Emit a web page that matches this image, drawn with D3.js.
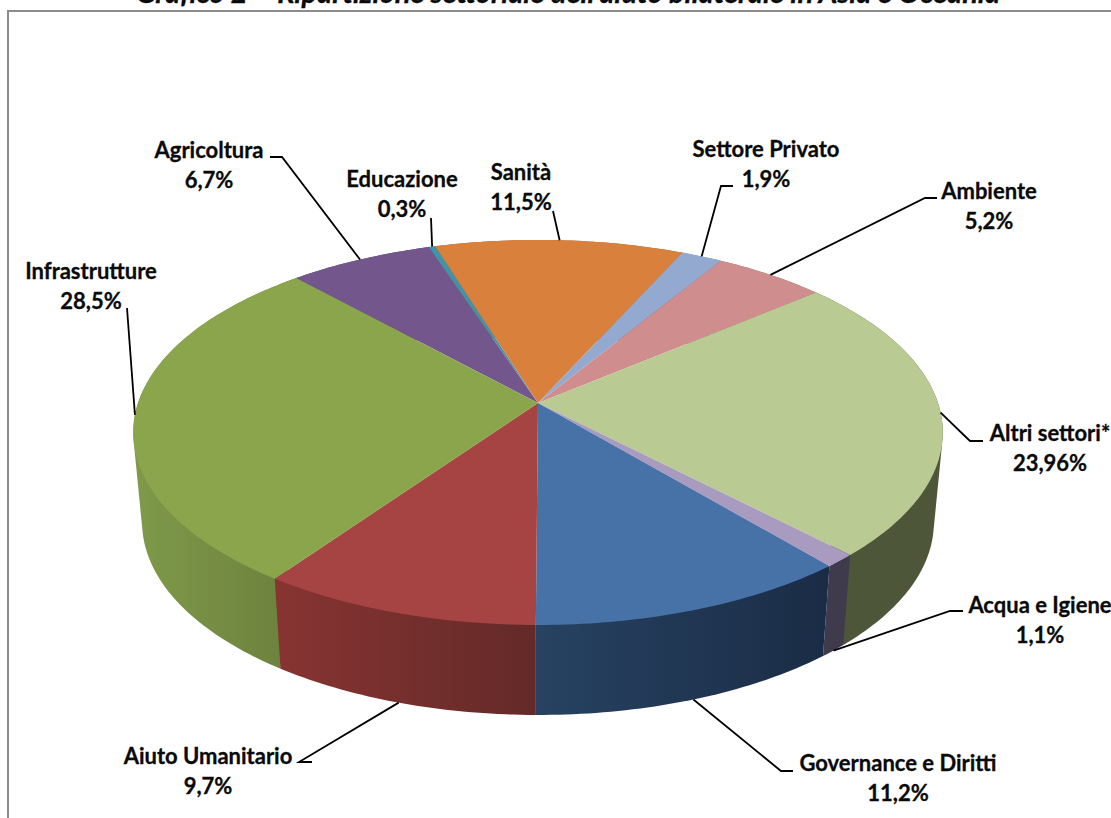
<!DOCTYPE html>
<html>
<head>
<meta charset="utf-8">
<script src="https://cdn.jsdelivr.net/npm/d3@7"></script>
<style>
  html, body { margin: 0; padding: 0; background: #fff; overflow: hidden; }
  text { font-family: Lato, "Open Sans", sans-serif; font-weight: 700; fill: #0a0a0a; stroke: #0a0a0a; stroke-width: 0.3px; }
  .chartTitle { font-style: italic; }
</style>
</head>
<body>
<div id="chart"></div>
<script>
const chartTitle = "Grafico 2 – Ripartizione settoriale dell'aiuto bilaterale in Asia e Oceania";
// clockwise, starting from the Infrastrutture/Agricoltura edge
const sectors = ["Agricoltura", "Educazione", "Sanità", "Settore Privato", "Ambiente",
  "Altri settori*", "Acqua e Igiene", "Governance e Diritti", "Aiuto Umanitario", "Infrastrutture"];
const shares = [6.7, 0.3, 11.5, 1.9, 5.2, 23.96, 1.1, 11.2, 9.7, 28.5];
const shareLabels = ["6,7%", "0,3%", "11,5%", "1,9%", "5,2%", "23,96%", "1,1%", "11,2%", "9,7%", "28,5%"];

const topColors = ["#73578c", "#3f94aa", "#d9803c", "#94a9d0", "#cf8d8d",
  "#b9cb92", "#a99bbf", "#4672a8", "#a54442", "#8aa54c"];
const wallColors = [["#5a4470", "#5a4470"], ["#2f6f80", "#2f6f80"], ["#a5612e", "#a5612e"], ["#6f7f9c", "#6f7f9c"], ["#9c6b6b", "#9c6b6b"],
  ["#4d5639", "#4d5639"], ["#403b4c", "#403b4c"], ["#274262", "#1a2c45"], ["#873432", "#632a28"], ["#7f9a4a", "#6c803c"]];

// label centre x, first line centre y, then the leader elbow points (label side first)
const labelX = [209, 402, 521, 766, 989, 1050, 1040, 898, 208, 91];
const labelY = [150, 179, 172, 149, 191, 433, 605, 763, 756, 271];
const leaderKnees = [
  [[270, 157], [282, 157]],
  [[431, 218]],
  [[553, 211]],
  [[733, 186], [721, 186]],
  [[937, 198], [925, 198]],
  [[983, 441], [970, 441]],
  [[963, 611], [950, 611]],
  [[793, 771], [781, 771]],
  [[312, 762], [299, 762]],
  [[127, 308]]
];
// these leaders land on the bottom rim of the wall rather than the top disc
const onWall = [false, false, false, false, false, false, true, true, true, false];

const width = 1111;
const height = 818;
const cx = 538, cy = 403;
const radiusX = 400, radiusY = 188;
const perspective = 0.153;
const depth = 90;
const bottomScale = 0.978;

const svg = d3.select("#chart").append("svg").attr("width", width).attr("height", height);
const defs = svg.append("defs");

svg.append("text")
  .attr("class", "chartTitle")
  .attr("x", 568).attr("y", 3)
  .attr("text-anchor", "middle")
  .attr("font-size", 29)
  .text(chartTitle);

// frame: open on the right, cut by the bottom of the picture
svg.append("path")
  .attr("d", d3.line()([[width + 5, 11], [8, 11], [8, height + 5]]))
  .attr("fill", "none").attr("stroke", "#8c8c8c").attr("stroke-width", 2);

const scaleX = d3.scaleLinear().domain([-1, 1]).range([cx - radiusX, cx + radiusX]);
const scaleY = d3.scaleLinear().domain([-1, 1]).range([cy + radiusY, cy - radiusY]);

// a = angle clockwise from the back of the disc, r = 0..1
function project(a, r) {
  const u = r * Math.sin(a), v = r * Math.cos(a);
  const s = 1 / (1 + perspective * v);
  return [scaleX(u * s), scaleY(v * s)];
}
function projectBottom(a) {
  const p = project(a, 1);
  return [cx + (p[0] - cx) * bottomScale, p[1] + depth];
}

const startAngle = -42.3 * Math.PI / 180;
const pie = d3.pie().sort(null).startAngle(startAngle).endAngle(startAngle + 2 * Math.PI);
const arcs = pie(shares);
const line = d3.line();

function rimAngles(d) {
  const n = Math.max(4, Math.ceil((d.endAngle - d.startAngle) * 60));
  return d3.range(n + 1).map(i => d.startAngle + (d.endAngle - d.startAngle) * i / n);
}

// walls, back ones first. Hull so the fold at the left/right extremes stays filled
const wallOrder = d3.range(arcs.length).sort((a, b) =>
  Math.cos((arcs[b].startAngle + arcs[b].endAngle) / 2) - Math.cos((arcs[a].startAngle + arcs[a].endAngle) / 2));

svg.append("g").selectAll("path")
  .data(wallOrder)
  .enter()
  .append("path")
  .attr("d", i => {
    const angles = rimAngles(arcs[i]);
    return line(d3.polygonHull(angles.map(a => project(a, 1)).concat(angles.map(projectBottom)))) + "Z";
  })
  .attr("fill", i => {
    const pts = rimAngles(arcs[i]).map(a => project(a, 1));
    const id = "wall" + i;
    const grad = defs.append("linearGradient").attr("id", id)
      .attr("gradientUnits", "userSpaceOnUse")
      .attr("x1", d3.min(pts, p => p[0])).attr("x2", d3.max(pts, p => p[0]))
      .attr("y1", 0).attr("y2", 0);
    grad.append("stop").attr("offset", 0).attr("stop-color", wallColors[i][0]);
    grad.append("stop").attr("offset", 1).attr("stop-color", wallColors[i][1]);
    return "url(#" + id + ")";
  });

// top disc
svg.append("g").selectAll("path")
  .data(arcs)
  .enter()
  .append("path")
  .attr("d", d => line([[cx, cy]].concat(rimAngles(d).map(a => project(a, 1)))) + "Z")
  .attr("fill", (d, i) => topColors[i]);

// leaders
svg.append("g").selectAll("path")
  .data(arcs)
  .enter()
  .append("path")
  .attr("d", (d, i) => {
    const mid = (d.startAngle + d.endAngle) / 2;
    const end = onWall[i] ? projectBottom(mid) : project(mid, 1);
    return line(leaderKnees[i].concat([end]));
  })
  .attr("fill", "none")
  .attr("stroke", "#000")
  .attr("stroke-width", 1.8);

// labels
const labelG = svg.append("g").selectAll("g")
  .data(sectors)
  .enter()
  .append("g")
  .attr("transform", (d, i) => "translate(" + labelX[i] + "," + labelY[i] + ")")
  .attr("text-anchor", "middle")
  .attr("font-size", 22);
labelG.append("text").attr("y", 7.5).text(d => d);
labelG.append("text").attr("y", 38).text((d, i) => shareLabels[i]);
</script>
</body>
</html>
